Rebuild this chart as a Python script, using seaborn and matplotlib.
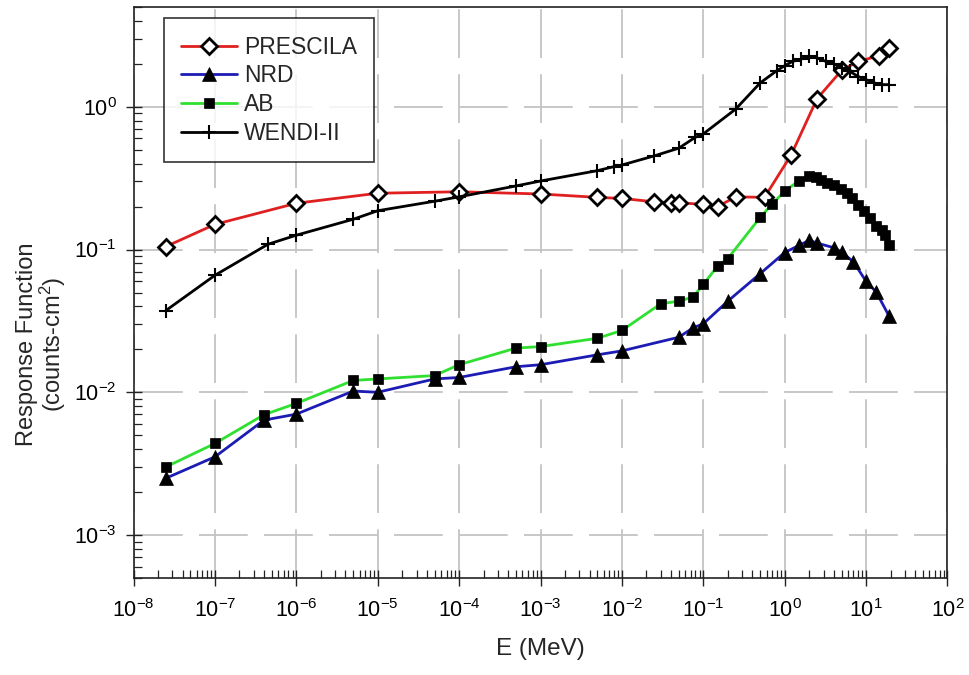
import matplotlib
matplotlib.use("Agg")
import matplotlib.pyplot as plt
import numpy as np
import pandas as pd
import seaborn as sns
from matplotlib.ticker import LogLocator, LogFormatterSciNotation, NullFormatter

# ---- data (E in MeV, response in counts-cm^2) ----
prescila_E = [2.5e-8, 1e-7, 1e-6, 1e-5, 1e-4, 1e-3, 5e-3, 1e-2, 2.5e-2, 4e-2, 5e-2,
              1e-1, 1.5e-1, 2.5e-1, 5.65e-1, 1.2, 2.5, 5, 8, 14.5, 19]
prescila_R = [0.105, 0.150, 0.211, 0.248, 0.254, 0.245, 0.232, 0.228, 0.216, 0.213, 0.213,
              0.207, 0.200, 0.234, 0.232, 0.460, 1.14, 1.80, 2.08, 2.28, 2.58]

nrd_E = [2.5e-8, 1e-7, 4e-7, 1e-6, 5e-6, 1e-5, 5e-5, 1e-4, 5e-4, 1e-3, 5e-3, 1e-2,
         5e-2, 7.5e-2, 1e-1, 2e-1, 5e-1, 1, 1.5, 2, 2.5, 4, 5, 7, 10, 13.3, 19]
nrd_R = [0.0025, 0.00353, 0.00638, 0.00703, 0.0102, 0.0100, 0.0124, 0.0127, 0.0151, 0.0156,
         0.0183, 0.0195, 0.0243, 0.0283, 0.0302, 0.0435, 0.0678, 0.0953, 0.107, 0.116, 0.111,
         0.103, 0.0962, 0.0818, 0.0599, 0.0504, 0.0345]

ab_E = [2.5e-8, 1e-7, 4e-7, 1e-6, 5e-6, 1e-5, 5e-5, 1e-4, 5e-4, 1e-3, 5e-3, 1e-2, 3e-2,
        5e-2, 7.5e-2, 1e-1, 1.5e-1, 2e-1, 5e-1, 7e-1, 1, 1.5, 2, 2.4, 2.8, 3.3, 4, 4.9, 5.8,
        6.8, 7.9, 9.4, 11.2, 13.2, 15.6, 17.1, 19]
ab_R = [0.0030, 0.00438, 0.00696, 0.00836, 0.0121, 0.0124, 0.0131, 0.0156, 0.0204, 0.0209,
        0.0239, 0.0271, 0.0417, 0.0435, 0.0465, 0.057, 0.0767, 0.0865, 0.168, 0.208, 0.257,
        0.303, 0.329, 0.321, 0.307, 0.291, 0.283, 0.264, 0.247, 0.228, 0.205, 0.186, 0.165,
        0.146, 0.138, 0.126, 0.107]

wendi_E = [2.5e-8, 1e-7, 4.5e-7, 1e-6, 5e-6, 1e-5, 5e-5, 1e-4, 5e-4, 1e-3, 5e-3, 8e-3,
           1e-2, 2.5e-2, 5e-2, 8e-2, 1e-1, 2.5e-1, 5e-1, 8e-1, 1, 1.25, 1.6, 2, 2.5, 3.2, 4,
           5, 6.3, 8, 10, 12.5, 15.8, 19]
wendi_R = [0.0374, 0.066, 0.109, 0.126, 0.163, 0.187, 0.218, 0.234, 0.279, 0.302, 0.357,
           0.381, 0.391, 0.453, 0.513, 0.612, 0.646, 0.964, 1.47, 1.79, 1.94, 2.08, 2.16,
           2.26, 2.20, 2.08, 2.0, 1.87, 1.77, 1.63, 1.55, 1.47, 1.43, 1.43]

series_names = ["PRESCILA", "NRD", "AB", "WENDI-II"]
x_label = "E (MeV)"
y_label = "Response Function\n(counts-cm$^2$)"

# ---- style ----
sns.set_theme(style="white")
plt.rcParams["font.family"] = ["Liberation Sans", "DejaVu Sans"]
plt.rcParams["mathtext.fontset"] = "custom"
plt.rcParams["mathtext.rm"] = "Liberation Sans"
plt.rcParams["mathtext.it"] = "Liberation Sans:italic"
plt.rcParams["mathtext.bf"] = "Liberation Sans:bold"
plt.rcParams["axes.unicode_minus"] = False

fig = plt.figure(figsize=(9.69, 6.75), dpi=100)
ax = fig.add_axes([0.1378, 0.1437, 0.8400, 0.8459])

styles = {
    "PRESCILA": dict(color="#e02020", marker="D", markersize=8.5, markerfacecolor="white",
                     markeredgecolor="black", markeredgewidth=2.0),
    "NRD": dict(color="#1c1cb4", marker="^", markersize=10, markerfacecolor="black",
                markeredgecolor="black", markeredgewidth=0.5),
    "AB": dict(color="#30e030", marker="s", markersize=7.5, markerfacecolor="black",
               markeredgecolor="black", markeredgewidth=0.5),
    "WENDI-II": dict(color="black", marker="+", markersize=10, markerfacecolor="black",
                     markeredgecolor="black", markeredgewidth=1.5),
}
data = {
    "PRESCILA": (prescila_E, prescila_R),
    "NRD": (nrd_E, nrd_R),
    "AB": (ab_E, ab_R),
    "WENDI-II": (wendi_E, wendi_R),
}

for name in series_names:
    E, R = data[name]
    df = pd.DataFrame({"E": E, "R": R})
    sns.lineplot(data=df, x="E", y="R", ax=ax, estimator=None, sort=False,
                 linewidth=2.0, label=name, zorder=3, **styles[name])

ax.set_xscale("log")
ax.set_yscale("log")
ax.set_xlim(1e-8, 1e2)
ax.set_ylim(5e-4, 5)

ax.xaxis.set_major_locator(LogLocator(base=10, numticks=20))
ax.xaxis.set_minor_locator(LogLocator(base=10, subs=np.arange(2, 10), numticks=200))
ax.yaxis.set_major_locator(LogLocator(base=10, numticks=20))
ax.yaxis.set_minor_locator(LogLocator(base=10, subs=np.arange(2, 10), numticks=200))
ax.xaxis.set_major_formatter(LogFormatterSciNotation())
ax.yaxis.set_major_formatter(LogFormatterSciNotation())
ax.xaxis.set_minor_formatter(NullFormatter())
ax.yaxis.set_minor_formatter(NullFormatter())

ax.tick_params(which="major", direction="inout", length=12, width=1.0, colors="#222222",
               labelsize=15.5, labelcolor="black", bottom=True, left=True, top=False,
               right=False, pad=6)
ax.tick_params(which="minor", direction="in", length=6, width=0.9, colors="#222222",
               bottom=True, left=True, top=False, right=False)
ax.tick_params(axis="x", which="major", pad=9)

ax.grid(True, which="major", color="#c4c4c4", linewidth=1.3, linestyle=(0, (27, 9)))
ax.set_axisbelow(True)

for sp in ax.spines.values():
    sp.set_color("#222222")
    sp.set_linewidth(1.2)

ax.set_xlabel(x_label, fontsize=17.5, labelpad=12)
ax.set_ylabel(y_label, fontsize=17, linespacing=1.0)
ax.yaxis.set_label_coords(-0.080, 0.41)

leg = ax.legend(loc="upper left", bbox_to_anchor=(0.037, 0.980), borderaxespad=0,
                frameon=True, fancybox=False, fontsize=16.5, handlelength=2.45,
                handletextpad=0.3, labelspacing=0.25, borderpad=0.75)
leg.get_frame().set_edgecolor("black")
leg.get_frame().set_linewidth(1.2)

fig.savefig("out.png", dpi=100)
